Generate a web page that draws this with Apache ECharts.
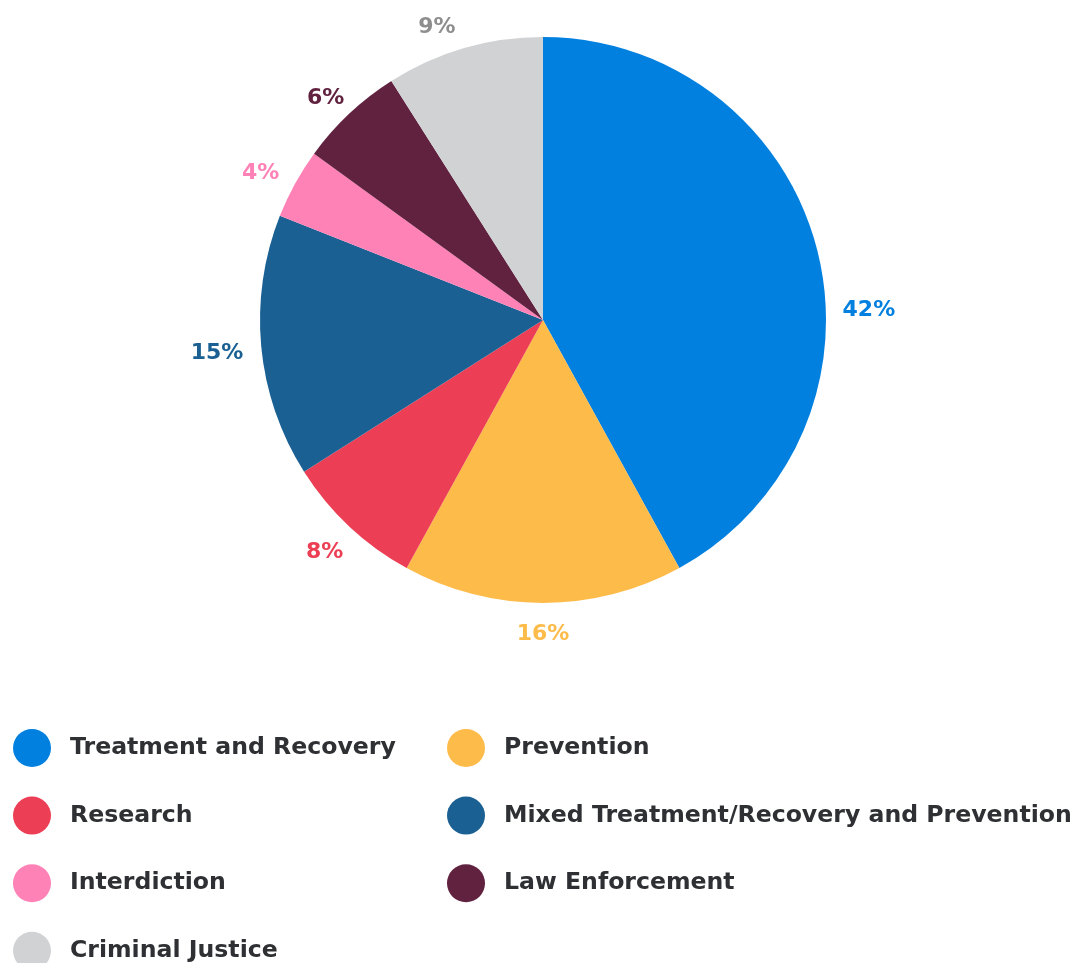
<!DOCTYPE html>
<html>
<head>
<meta charset="utf-8">
<script src="https://cdn.jsdelivr.net/npm/echarts@6/dist/echarts.min.js"></script>
<style>html,body{margin:0;padding:0;background:#fff}#c{width:1076px;height:963px}</style>
</head>
<body>
<div id="c"></div>
<script>
const categories = ["Treatment and Recovery","Prevention","Research","Mixed Treatment/Recovery and Prevention","Interdiction","Law Enforcement","Criminal Justice"];
const values = [42,16,8,15,4,6,9];
const colors = ["#0280E0","#FDBB4A","#EC3E54","#1B6093","#FF82B6","#612240","#D1D2D4"];
const labelColors = ["#0280E0","#FDBB4A","#EC3E54","#1B6093","#FF82B6","#612240","#8E8E8E"];
const leftLegend = ["Treatment and Recovery","Research","Interdiction","Criminal Justice"];
const rightLegend = ["Prevention","Mixed Treatment/Recovery and Prevention","Law Enforcement"];

// layout / style constants
const CX = 543, CY = 320, R = 283, LABEL_GAP = 18;
const labelShift = {0: [8, 70], 2: [-2, 0], 4: [0, 7], 5: [-1, 7], 6: [-19, 5]};

const total = values.reduce((a,b)=>a+b,0);
const midAngles = [];
{ let acc = 0; values.forEach(v=>{ midAngles.push(Math.PI/2 - (acc + v/2)/total*2*Math.PI); acc += v; }); }

const chart = echarts.init(document.getElementById('c'), null, {renderer:'canvas'});
const legendBase = {
  orient:'vertical', icon:'circle', itemWidth:38, itemHeight:38, itemGap:29.6,
  padding:0, height:400,
  textStyle:{fontFamily:'DejaVu Sans', fontSize:23.6, fontWeight:'bold', color:'#2E3033', padding:[0,0,0,14]},
  selectedMode:false
};
chart.setOption({
  animation:false,
  color: colors,
  legend:[
    Object.assign({}, legendBase, {left:13, top:729, data:leftLegend}),
    Object.assign({}, legendBase, {left:447, top:729, data:rightLegend})
  ],
  series:[{
    type:'pie',
    center:[CX,CY],
    radius:R,
    startAngle:90,
    clockwise:true,
    avoidLabelOverlap:false,
    silent:true,
    data: categories.map((n,i)=>({name:n, value:values[i], label:{color:labelColors[i]}})),
    label:{show:true, position:'outside', formatter:'{c}%', fontFamily:'DejaVu Sans', fontSize:22, fontWeight:'bold'},
    labelLine:{show:false, length:LABEL_GAP, length2:0},
    labelLayout: function(p){
      const a = midAngles[p.dataIndex];
      const dx = Math.cos(a), dy = -Math.sin(a);
      const hw = p.labelRect.width/2, hh = p.labelRect.height/2;
      const t = Math.min(Math.abs(dx) > 1e-6 ? hw/Math.abs(dx) : Infinity, Math.abs(dy) > 1e-6 ? hh/Math.abs(dy) : Infinity);
      const d = R + LABEL_GAP + t;
      const s = labelShift[p.dataIndex] || [0,0];
      return {x: CX + dx*d + s[0], y: CY + dy*d + 2 + s[1], align:'center', verticalAlign:'middle'};
    }
  }]
});
</script>
</body>
</html>
